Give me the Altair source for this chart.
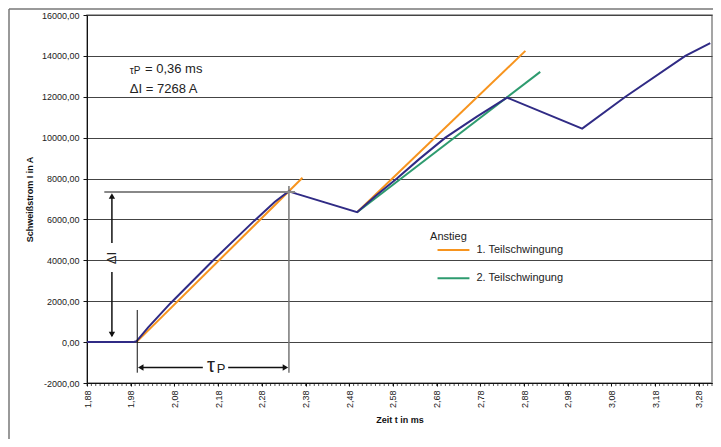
import altair as alt
import pandas as pd

# ---- main measured current (Schweißstrom) ----
t_main = [1.88, 1.985, 1.993, 2.02, 2.07, 2.17, 2.26, 2.31, 2.342, 2.36, 2.498,
          2.54, 2.589, 2.64, 2.700, 2.772, 2.841, 3.013, 3.112, 3.249, 3.306]
i_main = [0, 0, 40, 720, 1880, 4030, 5880, 6870, 7380, 7250, 6353,
          7150, 8000, 8950, 10000, 11030, 11960, 10441, 12000, 14000, 14622]

# ---- tangent lines (Anstieg) ----
tan_series = ["1. Teilschwingung", "1. Teilschwingung", "1. Teilschwingung",
              "1. Teilschwingung", "2. Teilschwingung", "2. Teilschwingung"]
tan_seg = ["a", "a", "b", "b", "c", "c"]
tan_t = [1.993, 2.373, 2.498, 2.883, 2.498, 2.917]
tan_i = [0, 8039, 6353, 14245, 6353, 13216]

# ---- axis ticks ----
x_major = [round(1.88 + k * 0.1, 2) for k in range(15)]
x_minor = [round(1.88 + k * 0.01, 2) for k in range(144)]
y_ticks = [-2000, 0, 2000, 4000, 6000, 8000, 10000, 12000, 14000, 16000]

MAIN = "#302B85"
ORANGE = "#F7941E"
GREEN = "#2E9B6F"

W, H = 625, 368

xs = alt.Scale(domain=[1.88, 3.31], nice=False, zero=False)
ys = alt.Scale(domain=[-2000, 16000], nice=False)

main_df = pd.DataFrame({"t": t_main, "I": i_main})
tan_df = pd.DataFrame({"series": tan_series, "seg": tan_seg, "t": tan_t, "I": tan_i})

x_enc = alt.X("t:Q", scale=xs, title="Zeit t in ms",
              axis=alt.Axis(values=x_major, grid=False, tickSize=3, labelAngle=270,
                            labelAlign="right", labelBaseline="middle", labelOverlap=False,
                            labelFlush=False, labelPadding=4, labelFontSize=9,
                            labelExpr="replace(format(datum.value, '.2f'), '.', ',')",
                            titleFontSize=9, titleFontWeight="bold", titlePadding=8))
y_enc = alt.Y("I:Q", scale=ys, title="Schweißstrom I in A",
              axis=alt.Axis(values=y_ticks, grid=True, gridColor="#444", gridWidth=1,
                            tickSize=4, labelPadding=4, labelFontSize=9,
                            labelExpr="replace(replace(format(datum.value, '.2f'), '.', ','), '\u2212', '-')",
                            titleFontSize=9, titleFontWeight="bold", titlePadding=7))

tangents = alt.Chart(tan_df).mark_line(strokeWidth=2).encode(
    x=x_enc, y=y_enc, detail="seg:N",
    color=alt.Color("series:N", scale=alt.Scale(domain=["1. Teilschwingung", "2. Teilschwingung"],
                                                 range=[ORANGE, GREEN]), legend=None))
main = alt.Chart(main_df).mark_line(strokeWidth=2, color=MAIN).encode(x="t:Q", y="I:Q")

# minor ticks along the x axis
minor_df = pd.DataFrame({"t": x_minor})
minor = alt.Chart(minor_df).mark_tick(orient="vertical", size=3, thickness=1, color="#111").encode(
    x="t:Q", y=alt.value(H + 1.5))

# ---- annotation geometry (in data units) ----
rule_x = [1.995, 2.342, 1.937, 1.937]
rule_y = [1571, 7636, 7200, 3429]
rule_y2 = [-1496, -1496, 4848, 300]
rule_col = ["#111", "#777", "#111", "#111"]
rule_w = [1, 1.5, 1.5, 1.5]
vr_df = pd.DataFrame({"t": rule_x, "I": rule_y, "I2": rule_y2, "c": rule_col, "w": rule_w})
vrules = alt.Chart(vr_df).mark_rule().encode(
    x="t:Q", y="I:Q", y2="I2:Q",
    color=alt.Color("c:N", scale=None), strokeWidth=alt.StrokeWidth("w:Q", scale=None))

hr_t = [1.9196, 2.003, 2.203]
hr_t2 = [2.356, 2.145, 2.334]
hr_i = [7342, -1242, -1242]
hr_col = ["#888", "#111", "#111"]
hr_w = [2, 1.5, 1.5]
hr_df = pd.DataFrame({"t": hr_t, "t2": hr_t2, "I": hr_i, "c": hr_col, "w": hr_w})
hrules = alt.Chart(hr_df).mark_rule().encode(
    x="t:Q", x2="t2:Q", y="I:Q",
    color=alt.Color("c:N", scale=None), strokeWidth=alt.StrokeWidth("w:Q", scale=None))

arrow_t = [1.937, 1.937, 2.003, 2.334]
arrow_i = [7150, 370, -1242, -1242]
arrow_shape = ["triangle-up", "triangle-down", "triangle-left", "triangle-right"]
ar_df = pd.DataFrame({"t": arrow_t, "I": arrow_i, "s": arrow_shape})
arrows = alt.Chart(ar_df).mark_point(filled=True, color="#111", size=40, opacity=1).encode(
    x="t:Q", y="I:Q", shape=alt.Shape("s:N", scale=None))

# ---- annotation texts ----
txt = [
    ("τP", 1.978, 13250, 10, 0, "left"),
    ("= 0,36 ms", 2.0127, 13344, 13, 0, "left"),
    ("ΔI = 7268 A", 1.978, 12380, 13, 0, "left"),
    ("ΔI", 1.937, 4114, 13, 270, "center"),
    ("τ", 2.1637, -1160, 20, 0, "center"),
    ("P", 2.1866, -1330, 13, 0, "center"),
    ("Anstieg", 2.665, 5141, 11, 0, "left"),
    ("1. Teilschwingung", 2.771, 4505, 11, 0, "left"),
    ("2. Teilschwingung", 2.771, 3121, 11, 0, "left"),
]
txt_df = pd.DataFrame(txt, columns=["label", "t", "I", "fs", "ang", "al"])
texts = []
for al in ["left", "center"]:
    for ang in [0, 270]:
        sub = txt_df[(txt_df.al == al) & (txt_df.ang == ang)]
        if len(sub) == 0:
            continue
        texts.append(alt.Chart(sub).mark_text(align=al, baseline="middle", angle=ang,
                                              font="Liberation Sans", color="#222").encode(
            x="t:Q", y="I:Q", text="label:N", size=alt.Size("fs:Q", scale=None)))

# ---- manual legend swatches ----
leg_df = pd.DataFrame({"t": [2.682, 2.682], "t2": [2.755, 2.755], "I": [4505, 3121],
                       "series": ["1. Teilschwingung", "2. Teilschwingung"]})
leg = alt.Chart(leg_df).mark_rule(strokeWidth=2).encode(
    x="t:Q", x2="t2:Q", y="I:Q",
    color=alt.Color("series:N", scale=alt.Scale(domain=["1. Teilschwingung", "2. Teilschwingung"],
                                                 range=[ORANGE, GREEN]), legend=None))

# ---- outer frame of the whole chart ----
frame_df = pd.DataFrame({"a": [0]})
frame_l = alt.Chart(frame_df).mark_rule(color="#777", strokeWidth=1.5).encode(
    x=alt.value(-78), y=alt.value(-6), y2=alt.value(430))
frame_t = alt.Chart(frame_df).mark_rule(color="#777", strokeWidth=1.5).encode(
    x=alt.value(-78), x2=alt.value(630), y=alt.value(-6))

chart = alt.layer(frame_l, frame_t, tangents, main, minor, vrules, hrules, arrows, leg, *texts).properties(
    width=W, height=H, autosize="none",
    padding={"left": 79, "top": 7, "right": 1, "bottom": 56},
    background="white",
).configure_view(stroke="#888", strokeWidth=1.5).configure_axis(
    domainColor="#111", tickColor="#111", labelColor="#222", titleColor="#111",
    labelFont="Liberation Sans", titleFont="Liberation Sans",
)

chart.save("out.html", embed_options={"renderer": "svg", "actions": False})
